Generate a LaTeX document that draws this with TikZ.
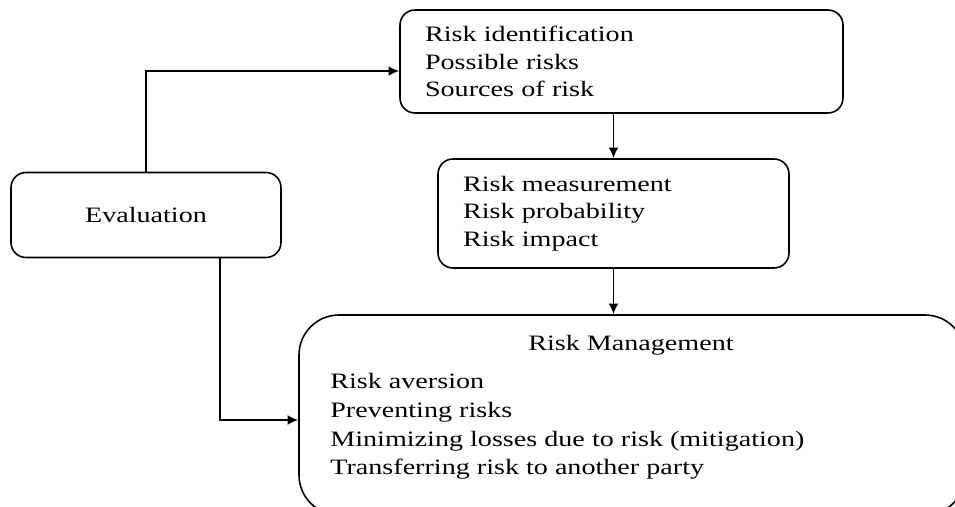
\documentclass[tikz,border=0pt]{standalone}
\usepackage{fontspec}
\setmainfont{Liberation Serif}[FakeStretch=1.28]
\usetikzlibrary{arrows,arrows.meta}
\usetikzlibrary{positioning}

\begin{document}
\begin{tikzpicture}[
  box/.style={rectangle,rounded corners=0.3cm,draw=black,line width=0.9pt,inner xsep=0.5cm,inner ysep=0pt,align=left,font=\fontsize{12.5}{15.6}\selectfont},
  link/.style={line width=1pt,-{Latex[length=6pt,width=5.5pt]}}]
\useasboundingbox (0,0) rectangle (19.1,10.12);
\clip (0,0) rectangle (19.1,10.12);
\node at (2.92,5.82)[box,minimum width=5.4cm,minimum height=1.7cm,align=center](eval){Evaluation};
\node at (12.43,8.89)[box,text width=7.86cm,minimum height=2.06cm](ident){Risk identification\\Possible risks\\Sources of risk};
\node at (12.27,5.85)[box,text width=6.02cm,minimum height=2.18cm](measure){Risk measurement\\Risk probability\\Risk impact};
\node at (12.64,1.82)[box,rounded corners=0.8cm,minimum width=13.32cm,minimum height=4cm](manage){};
\node at (12.62,3.22)[font=\fontsize{12.5}{15.6}\selectfont](managetitle){Risk Management};
\node at (6.6,1.59)[anchor=west,inner sep=0pt,align=left,font=\fontsize{12.5}{16.4}\selectfont](managelist){Risk aversion\\Preventing risks\\Minimizing losses due to risk (mitigation)\\Transferring risk to another party};
% connectors
\draw[link] (eval.north) |- ([yshift=-0.19cm]ident.west);
\draw[link] (ident.south -| measure) -- (measure.north);
\draw[link] (measure.south) -- (measure.south |- manage.north);
\draw[link] ([xshift=1.48cm]eval.south) |- ([yshift=-0.1cm]manage.west);
\end{tikzpicture}
\end{document}
